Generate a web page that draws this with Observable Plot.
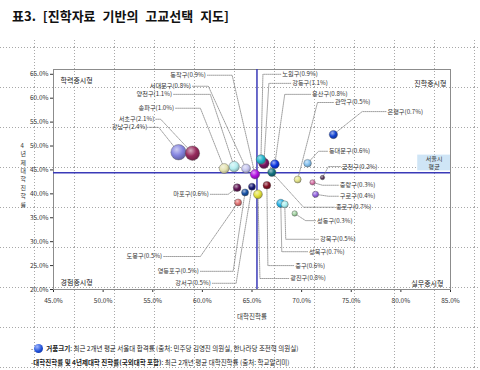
<!DOCTYPE html>
<html><head><meta charset="utf-8">
<script src="https://cdn.jsdelivr.net/npm/d3@7"></script>
<script src="https://cdn.jsdelivr.net/npm/@observablehq/plot@0.6"></script>
<style>
body{margin:0;width:480px;height:370px;position:relative;overflow:hidden;background:#fff;font-family:"Noto Sans CJK KR","Noto Sans",sans-serif;color:#222;}
#grid{position:absolute;left:0;top:40px;width:480px;height:330px;
 background-image:url("data:image/svg+xml;utf8,<svg xmlns='http://www.w3.org/2000/svg' width='40' height='40'><path d='M0.5 0V40M0 0.5H40' stroke='%23a8a8a8' stroke-width='1' stroke-dasharray='1 2' fill='none'/></svg>");
 background-position:34px 7px;}
#title{position:absolute;left:12px;top:6px;font-size:13px;font-weight:bold;word-spacing:4px;white-space:nowrap;color:#111;}
#chart{position:absolute;left:0;top:30px;}
#notes{position:absolute;left:31px;top:341px;font-size:6.5px;line-height:14px;white-space:nowrap;color:#222;}
#notes b{font-weight:bold;}
.dotb{display:inline-block;width:9px;height:9px;border-radius:50%;vertical-align:-2px;margin:0 3px 0 1px;background:radial-gradient(circle at 35% 30%,#9fb6ff,#1f4fd6 55%,#0a2a8a);}
</style></head>
<body>
<div id="grid"></div>
<div id="title">표3. [진학자료 기반의 고교선택 지도]</div>
<div id="chart"></div>
<div id="notes">
<div>-<span class="dotb"></span><b>거품크기</b>: 최근 2개년 평균 서울대 합격률 (출처: 민주당 김영진 의원실, 한나라당 조전혁 의원실)</div>
<div>-<b>대학진학률 및 4년제대학 진학률(국외대학 포함)</b>: 최근 2개년 평균 대학진학률 (출처: 학교알리미)</div>
</div>
<script>
// ---- data ----
const districts   = ["강남구","서초구","송파구","양천구","서대문구","동작구","노원구","강동구","용산구","종로구","관악구","은평구","동대문구","금천구","중랑구","구로구","성동구","강북구","성북구","중구","광진구","마포구","도봉구","영등포구","강서구"];
const collegeRate = [57.6, 59.0, 62.2, 63.2, 64.4, 65.3, 65.9, 66.2, 67.3, 67.0, 69.6, 73.2, 70.6, 72.1, 71.1, 71.4, 69.3, 68.3, 67.9, 66.5, 65.6, 63.5, 63.6, 64.3, 65.0];
const univRate    = [48.7, 48.5, 45.3, 45.7, 45.3, 44.1, 47.2, 46.4, 46.2, 44.5, 43.0, 52.4, 46.4, 43.4, 42.4, 39.9, 35.9, 37.8, 38.0, 41.8, 39.9, 41.3, 38.2, 40.3, 41.5];
const snuRate     = [2.4, 2.1, 1.0, 1.1, 0.8, 0.9, 0.9, 1.1, 0.8, 0.7, 0.5, 0.7, 0.6, 0.2, 0.3, 0.4, 0.3, 0.5, 0.7, 0.6, 0.8, 0.6, 0.5, 0.5, 0.5];
const bubbleColors= ["#8585e0","#962a5c","#e4e2b0","#b4eef0","#c6c6f0","#b010e0","#22b4cc","#7a1462","#0a34e0","#12707e","#e4e48a","#1444d0","#86c2f0","#5a3a5a","#d674a6","#9464e0","#a4d4a4","#a8f0f0","#22b0e4","#821024","#e2e03a","#601454","#e07272","#1450a4","#121474"];
// label annotation layout (data units): label anchor x/y and elbow x of leader line
const labelX = [54.6, 55.3, 57.3, 57.1, 59.0, 60.5, 67.9, 68.9, 70.9, 73.3, 73.2, 78.5, 72.6, 73.9, 73.7, 73.7, 71.4, 71.7, 70.6, 69.2, 68.7, 60.8, 56.1, 59.8, 61.0];
const labelY = [53.9, 55.6, 57.9, 60.8, 62.5, 64.8, 65.0, 63.1, 60.8, 37.2, 59.1, 57.2, 48.9, 45.7, 41.8, 39.5, 34.4, 30.5, 27.9, 25.0, 22.3, 39.9, 26.9, 23.8, 21.3];
const elbowX = [55.6, 55.8, 59.8, 60.8, 60.6, 63.0, 66.1, 66.7, 68.3, 70.2, 71.6, 76.1, 71.7, 72.7, 72.1, 72.7, 70.4, 68.4, 68.0, 66.6, 65.8, 62.6, 59.8, 63.1, 63.4];
const seoulAvg = {college: 65.5, univ: 44.4};
const xTicks = [45, 50, 55, 60, 65, 70, 75, 80, 85];
const yTicks = [20, 25, 30, 35, 40, 45, 50, 55, 60, 65];
const quadrants = ["학력중시형", "진학중시형", "경험중시형", "실무중시형"];
const xTitle = "대학진학률";
const yTitle = "4년제대학진학률";

const rows = districts.map((name, i) => ({
  name, x: collegeRate[i], y: univRate[i], s: snuRate[i], color: bubbleColors[i],
  lx: labelX[i], ly: labelY[i], ex: elbowX[i]
}));
const leaders = rows.flatMap(d => [
  {name: d.name, x: d.lx, y: d.ly}, {name: d.name, x: d.ex, y: d.ly}, {name: d.name, x: d.x, y: d.y}
]);
const fmt = d => d.toFixed(1) + "%";
const lab = d => `${d.name}(${d.s.toFixed(1)}%)`;
const font = '"Noto Sans CJK KR","Noto Sans",sans-serif';

const plot = Plot.plot({
  width: 480, height: 300,
  marginLeft: 53, marginRight: 30, marginTop: 39, marginBottom: 41,
  style: {background: "transparent", fontFamily: font, fontSize: "6.5px", color: "#333"},
  x: {domain: [45, 85], ticks: xTicks, tickFormat: fmt, label: null, tickSize: 3, tickPadding: 6},
  y: {domain: [20, 66], ticks: yTicks, tickFormat: fmt, label: null, tickSize: 3, tickPadding: 2},
  r: {type: "sqrt", domain: [0, 2.4], range: [0, 7.7]},
  color: {type: "identity"},
  marks: [
    Plot.frame({stroke: "#8c8c8c"}),
    Plot.rect([seoulAvg], {x1: 81.7, x2: 85, y1: d => d.univ + 0.4, y2: d => d.univ + 3.7, fill: "#cfe5f6"}),
    Plot.text([seoulAvg], {x: 83.35, y: d => d.univ + 2.1, text: () => "서울시\n평균", fontSize: 6, lineHeight: 1.3, fill: "#333"}),
    Plot.ruleY([seoulAvg.univ], {stroke: "#3a3ab8", strokeWidth: 1.5}),
    Plot.ruleX([seoulAvg.college], {stroke: "#3a3ab8", strokeWidth: 1.5}),
    Plot.line(leaders, {x: "x", y: "y", z: "name", stroke: "#777", strokeWidth: 0.7, strokeDasharray: "1 1", curve: "linear"}),
    Plot.dot(rows, {x: "x", y: "y", r: "s", fill: "color", stroke: "#555", strokeWidth: 0.4}),
    Plot.text(rows.filter(d => d.lx > d.ex), {x: "lx", y: "ly", text: lab, textAnchor: "start", dx: 1.5, fontSize: 6.2, fill: "#333"}),
    Plot.text(rows.filter(d => d.lx <= d.ex), {x: "lx", y: "ly", text: lab, textAnchor: "end", dx: -1.5, fontSize: 6.2, fill: "#333"}),
    Plot.text([quadrants[0]], {frameAnchor: "top-left", text: d => d, dx: 7, dy: 9, fontSize: 7, fill: "#222"}),
    Plot.text([quadrants[1]], {frameAnchor: "top-right", text: d => d, dx: -4, dy: 12, fontSize: 7, fill: "#222"}),
    Plot.text([quadrants[2]], {frameAnchor: "bottom-left", text: d => d, dx: 7, dy: -5, fontSize: 7, fill: "#222"}),
    Plot.text([quadrants[3]], {frameAnchor: "bottom-right", text: d => d, dx: -7, dy: -4, fontSize: 7, fill: "#222"}),
    Plot.text([xTitle], {frameAnchor: "bottom", text: d => d, dy: 29, fontSize: 6.5, fill: "#333"}),
    Plot.text([yTitle], {frameAnchor: "left", text: d => d.split("").join("\n"), dx: -33, dy: -5, fontSize: 6, lineHeight: 1.4, fill: "#333"})
  ]
});

// 3D-shaded bubbles through radial gradients built from the fill colours
const svg = d3.select(plot);
const defs = svg.insert("defs", ":first-child");
const seen = new Set();
svg.selectAll('g[aria-label="dot"] circle').each(function() {
  const c = d3.color(this.getAttribute("fill"));
  if (!c) return;
  const hex = c.formatHex();
  const id = "g" + hex.slice(1);
  if (!seen.has(id)) {
    seen.add(id);
    const g = defs.append("radialGradient").attr("id", id).attr("cx", "38%").attr("cy", "32%").attr("r", "70%");
    g.append("stop").attr("offset", "0%").attr("stop-color", d3.interpolateRgb(hex, "#ffffff")(0.6));
    g.append("stop").attr("offset", "55%").attr("stop-color", hex);
    g.append("stop").attr("offset", "100%").attr("stop-color", c.darker(0.9).formatHex());
  }
  this.setAttribute("fill", `url(#${id})`);
});
document.getElementById("chart").appendChild(plot);
</script>
</body></html>
